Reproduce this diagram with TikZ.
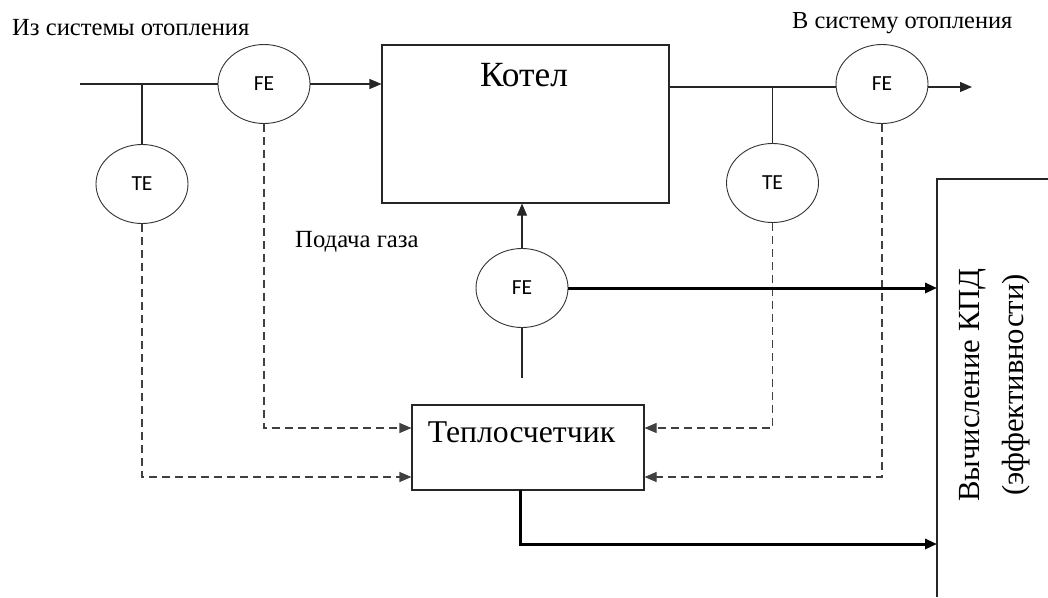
\documentclass[tikz,border=0pt]{standalone}
\usepackage{fontspec}
\setmainfont{Liberation Serif}
\newfontfamily\calib{Carlito}
\usetikzlibrary{arrows.meta,shapes.geometric,calc}
\tikzset{
  sensor/.style={draw=black!80, line width=0.9pt, ellipse, minimum width=92pt, minimum height=79pt, inner sep=0pt, font=\calib\fontsize{21.5}{24}\selectfont},
  pipe/.style={draw=black!85, line width=1.1pt},
  tip/.style={-{Triangle[length=12pt,width=10pt]}},
  signal/.style={draw=black!75, line width=1.1pt, dash pattern=on 8pt off 5pt},
  thickline/.style={draw=black, line width=3pt},
  boxstyle/.style={draw=black!85, line width=1.1pt, inner sep=0pt},
  lbl/.style={inner sep=0pt, anchor=base west}
}
\begin{document}
\begin{tikzpicture}[x=1pt,y=-1pt]
\useasboundingbox (0,0) rectangle (1048,597);
% texts
\node[lbl, font=\fontsize{24.6}{28}\selectfont] (tin) at (12,35) {Из системы отопления};
\node[lbl, font=\fontsize{24.4}{28}\selectfont] (tout) at (792,28) {В систему отопления};
\node[lbl, font=\fontsize{24.7}{28}\selectfont] (gasl) at (295,247) {Подача газа};
% boxes
\node[boxstyle, minimum width=287pt, minimum height=158pt] (kotel) at (525.5,124) {};
\node[inner sep=0pt, anchor=base, font=\fontsize{35.4}{38}\selectfont] (kotelt) at (524,86) {Котел};
\node[boxstyle, minimum width=232pt, minimum height=85pt] (teplo) at (528,447.5) {};
\node[inner sep=0pt, anchor=base, font=\fontsize{31.7}{35}\selectfont] (teplot) at (521.5,442) {Теплосчетчик};
\coordinate (bb) at (937,179);
\coordinate (bbr) at (1048,179);
\coordinate (bbb) at (937,597);
\draw[boxstyle] (bbb) -- (bb) -- (bbr);
\node[rotate=90, align=center, inner sep=0pt, font=\fontsize{30.7}{44}\selectfont] (kpd) at (995,385) {Вычисление КПД\\(эффективности)};
% sensors
\node[sensor] (fe1) at (264,84) {FE};
\node[sensor] (te1) at (142,184) {TE};
\node[sensor] (fe2) at (882,84) {FE};
\node[sensor] (te2) at (772.5,183) {TE};
\node[sensor] (fe3) at (522,288) {FE};
% pipes
\coordinate (in) at (80,84);
\coordinate (kout) at (669,87);
\coordinate (out) at (972,87);
\coordinate (gas) at (522,378);
\draw[pipe] (in) -- (fe1.west);
\draw[pipe,tip] (fe1.east) -- (fe1.east -| kotel.west);
\draw[pipe] (te1.north) -- (te1.north |- in);
\draw[pipe] (kout) -- (kout -| fe2.west);
\draw[pipe,tip] (fe2.east |- out) -- (out);
\draw[pipe] (te2.north) -- (te2.north |- kout);
\draw[pipe,tip] (fe3.north) -- (fe3.north |- kotel.south);
\draw[pipe] (gas) -- (fe3.south);
% signals
\draw[signal,tip] (fe1.south) |- ([yshift=19.5pt]teplo.west);
\draw[signal,tip] (te1.south) |- ([yshift=-29.5pt]teplo.west);
\draw[signal,tip] (te2.south) |- ([yshift=19.5pt]teplo.east);
\draw[signal,tip] (fe2.south) |- ([yshift=-29.5pt]teplo.east);
% thick
\draw[thickline,tip] (fe3.east) -- (fe3.east -| bb);
\coordinate (tsb) at (520,490);
\draw[thickline,tip] (tsb) |- (bb |- 0,544);
\end{tikzpicture}
\end{document}
